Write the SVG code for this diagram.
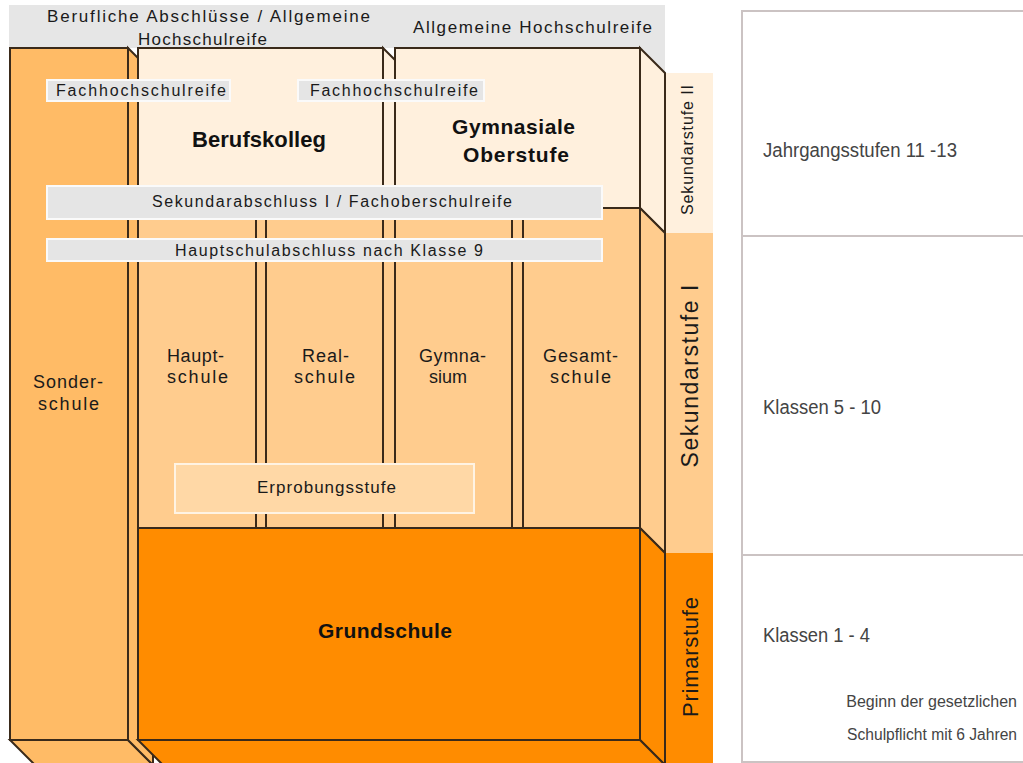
<svg xmlns="http://www.w3.org/2000/svg" width="1023" height="763" viewBox="0 0 1023 763">
<style>
.ln{stroke:#3a2a1a;stroke-width:2;stroke-linejoin:miter}
.sonder{fill:#FFBB66}
.peach{fill:#FFCC8E}
.cream{fill:#FFF0DD}
.grund{fill:#FF8C00}
.bar{fill:#E5E5E5;stroke:#FAFAFA;stroke-width:2}
.t{font-family:"Liberation Sans",Arial,sans-serif;fill:#1a1a1a}
.tb{font-family:"Liberation Sans",Arial,sans-serif;fill:#111;font-weight:bold}
.r{font-family:"Liberation Sans",Arial,sans-serif;fill:#444}
.frame{fill:none;stroke:#CBC3C3;stroke-width:2}
</style>

<g id="top-band">
  <rect x="9" y="5" width="656" height="43" fill="#E6E6E6"/>
  <polygon points="640,47 665,47 665,73" fill="#E6E6E6"/>
  <text class="t" x="47" y="22" font-size="17" textLength="323" lengthAdjust="spacing">Berufliche Abschlüsse / Allgemeine</text>
  <text class="t" x="138" y="45" font-size="17" textLength="129" lengthAdjust="spacing">Hochschulreife</text>
  <text class="t" x="413" y="33" font-size="17" textLength="239" lengthAdjust="spacing">Allgemeine Hochschulreife</text>
</g>

<g id="stage-column">
  <rect x="666" y="73" width="47" height="160" class="cream"/>
  <rect x="666" y="233" width="47" height="320" class="peach"/>
  <rect x="666" y="553" width="47" height="210" class="grund"/>
  <text class="t" transform="translate(693,150) rotate(-90)" text-anchor="middle" font-size="16" textLength="130" lengthAdjust="spacing">Sekundarstufe II</text>
  <text class="t" transform="translate(698,376) rotate(-90)" text-anchor="middle" font-size="23" textLength="183" lengthAdjust="spacing">Sekundarstufe I</text>
  <text class="t" transform="translate(698,657) rotate(-90)" text-anchor="middle" font-size="22" textLength="120" lengthAdjust="spacing">Primarstufe</text>
</g>

<g id="sonderschule">
  <polygon class="sonder ln" points="10,740 128,740 153,765 35,765"/>
  <polygon class="sonder ln" points="128,48 153,73 153,765 128,740"/>
  <rect class="sonder ln" x="10" y="48" width="118" height="692"/>
  <text class="t" x="33" y="388" font-size="18" textLength="70" lengthAdjust="spacing">Sonder-</text>
  <text class="t" x="38" y="410" font-size="18" textLength="61" lengthAdjust="spacing">schule</text>
</g>

<g id="berufskolleg">
  <polygon class="cream ln" points="383,48 408,73 408,210 383,200"/>
  <rect class="cream ln" x="138" y="48" width="245" height="152"/>
  <text class="tb" x="192" y="147" font-size="22" textLength="134" lengthAdjust="spacing">Berufskolleg</text>
</g>

<g id="gymnasiale-oberstufe">
  <polygon class="cream ln" points="640,48 665,73 665,233 640,208"/>
  <rect class="cream ln" x="395" y="48" width="245" height="160"/>
  <text class="tb" x="452" y="134" font-size="21" textLength="123" lengthAdjust="spacing">Gymnasiale</text>
  <text class="tb" x="463" y="162" font-size="21" textLength="106" lengthAdjust="spacing">Oberstufe</text>
</g>

<g id="sek1-background">
  <rect x="138" y="200" width="464" height="328" class="peach"/>
</g>

<g id="hauptschule">
  <rect class="peach ln" x="138" y="200" width="118" height="328"/>
  <text class="t" x="167" y="362" font-size="18" textLength="57" lengthAdjust="spacing">Haupt-</text>
  <text class="t" x="167" y="383" font-size="18" textLength="61" lengthAdjust="spacing">schule</text>
</g>

<g id="realschule">
  <rect class="peach ln" x="266" y="200" width="117" height="328"/>
  <text class="t" x="302" y="362" font-size="18" textLength="47" lengthAdjust="spacing">Real-</text>
  <text class="t" x="294" y="383" font-size="18" textLength="61" lengthAdjust="spacing">schule</text>
</g>

<g id="gymnasium">
  <rect class="peach ln" x="395" y="200" width="117" height="328"/>
  <text class="t" x="419" y="362" font-size="18" textLength="67" lengthAdjust="spacing">Gymna-</text>
  <text class="t" x="448" y="383" font-size="18" text-anchor="middle">sium</text>
</g>

<g id="gesamtschule">
  <polygon class="peach ln" points="640,208 665,233 665,553 640,528"/>
  <rect class="peach ln" x="523" y="208" width="117" height="320"/>
  <text class="t" x="543" y="362" font-size="18" textLength="75" lengthAdjust="spacing">Gesamt-</text>
  <text class="t" x="550" y="383" font-size="18" textLength="61" lengthAdjust="spacing">schule</text>
</g>

<g id="grundschule">
  <polygon class="grund ln" points="640,528 665,553 665,765 640,740"/>
  <polygon class="grund ln" points="138,740 640,740 665,765 163,765"/>
  <rect class="grund ln" x="138" y="528" width="502" height="212"/>
  <text class="tb" x="318" y="638" font-size="21" textLength="134" lengthAdjust="spacing">Grundschule</text>
</g>

<g id="fachhochschulreife-1">
  <rect class="bar" x="47" y="80" width="183" height="21"/>
  <text class="t" x="56" y="96" font-size="16" textLength="170" lengthAdjust="spacing">Fachhochschulreife</text>
</g>

<g id="fachhochschulreife-2">
  <rect class="bar" x="298" y="80" width="186" height="21"/>
  <text class="t" x="310" y="96" font-size="16" textLength="168" lengthAdjust="spacing">Fachhochschulreife</text>
</g>

<g id="sekundarabschluss">
  <rect class="bar" x="47" y="186" width="555" height="33"/>
  <text class="t" x="152" y="207" font-size="16" textLength="360" lengthAdjust="spacing">Sekundarabschluss I / Fachoberschulreife</text>
</g>

<g id="hauptschulabschluss">
  <rect class="bar" x="47" y="239" width="555" height="22"/>
  <text class="t" x="175" y="256" font-size="16" textLength="308" lengthAdjust="spacing">Hauptschulabschluss nach Klasse 9</text>
</g>

<g id="erprobungsstufe">
  <rect x="175" y="464" width="299" height="49" fill="#FFD8A6" stroke="#FFF3E3" stroke-width="2"/>
  <text class="t" x="257" y="493" font-size="17" textLength="139" lengthAdjust="spacing">Erprobungsstufe</text>
</g>

<g id="right-table">
  <rect class="frame" x="742" y="11" width="300" height="751"/>
  <line class="frame" x1="742" y1="236" x2="1023" y2="236"/>
  <line class="frame" x1="742" y1="555" x2="1023" y2="555"/>
  <text class="r" x="763" y="157" font-size="20" textLength="194" lengthAdjust="spacingAndGlyphs">Jahrgangsstufen 11 -13</text>
  <text class="r" x="763" y="414" font-size="20" textLength="118" lengthAdjust="spacingAndGlyphs">Klassen 5 - 10</text>
  <text class="r" x="763" y="642" font-size="20" textLength="107" lengthAdjust="spacingAndGlyphs">Klassen 1 - 4</text>
  <text class="r" x="1017" y="707" font-size="16" text-anchor="end">Beginn der gesetzlichen</text>
  <text class="r" x="1017" y="740" font-size="15.6" text-anchor="end">Schulpflicht mit 6 Jahren</text>
</g>
</svg>
